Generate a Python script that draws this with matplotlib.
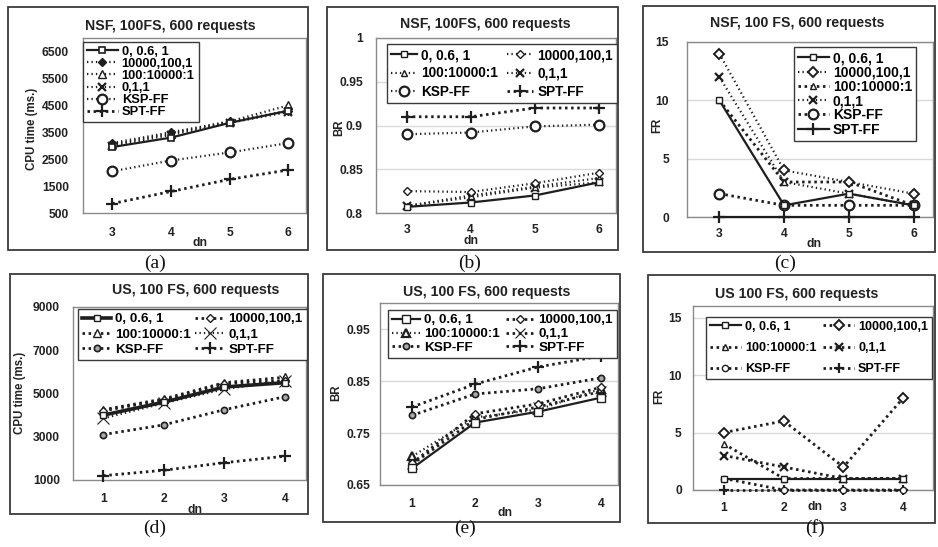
import matplotlib
matplotlib.use("Agg")
import matplotlib.pyplot as plt
from matplotlib.patches import Rectangle

W, H = 938, 547
plt.rcParams['font.family'] = ['Liberation Sans', 'DejaVu Sans']

SERIES = ["0, 0.6, 1", "10000,100,1", "100:10000:1", "0,1,1", "KSP-FF", "SPT-FF"]

# ---- (a) NSF CPU time ----
a_title = "NSF, 100FS, 600 requests"
a_dn = [3, 4, 5, 6]
a_0061 = [2950, 3300, 3850, 4300]
a_10000 = [3100, 3500, 3900, 4300]
a_100 = [3050, 3450, 3900, 4500]
a_011 = [3000, 3400, 3850, 4250]
a_ksp = [2050, 2450, 2750, 3100]
a_spt = [850, 1300, 1750, 2100]
a_yticks = [500, 1500, 2500, 3500, 4500, 5500, 6500]
a_ylabels = ["500", "1500", "2500", "3500", "4500", "5500", "6500"]

# ---- (b) NSF BR ----
b_title = "NSF, 100FS, 600 requests"
b_dn = [3, 4, 5, 6]
b_0061 = [0.807, 0.812, 0.820, 0.835]
b_10000 = [0.825, 0.824, 0.834, 0.846]
b_100 = [0.808, 0.820, 0.830, 0.840]
b_011 = [0.808, 0.818, 0.829, 0.835]
b_ksp = [0.890, 0.892, 0.899, 0.901]
b_spt = [0.910, 0.910, 0.920, 0.920]
b_yticks = [0.8, 0.85, 0.9, 0.95, 1.0]
b_ylabels = ["0.8", "0.85", "0.9", "0.95", "1"]

# ---- (c) NSF FR ----
c_title = "NSF, 100 FS, 600 requests"
c_dn = [3, 4, 5, 6]
c_0061 = [10, 1, 2, 1]
c_10000 = [14, 4, 3, 2]
c_100 = [10, 3, 3, 1]
c_011 = [12, 3, 2, 1]
c_ksp = [2, 1, 1, 1]
c_spt = [0, 0, 0, 0]
c_yticks = [0, 5, 10, 15]
c_ylabels = ["0", "5", "10", "15"]

# ---- (d) US CPU time ----
d_title = "US, 100 FS, 600 requests"
d_dn = [1, 2, 3, 4]
d_0061 = [4000, 4600, 5300, 5500]
d_10000 = [4200, 4700, 5450, 5600]
d_100 = [4250, 4750, 5500, 5750]
d_011 = [3850, 4550, 5200, 5600]
d_ksp = [3100, 3550, 4250, 4850]
d_spt = [1200, 1450, 1800, 2100]
d_yticks = [1000, 3000, 5000, 7000, 9000]
d_ylabels = ["1000", "3000", "5000", "7000", "9000"]

# ---- (e) US BR ----
e_title = "US, 100 FS, 600 requests"
e_dn = [1, 2, 3, 4]
e_0061 = [0.682, 0.770, 0.791, 0.818]
e_10000 = [0.692, 0.787, 0.806, 0.838]
e_100 = [0.705, 0.780, 0.795, 0.835]
e_011 = [0.690, 0.776, 0.800, 0.830]
e_ksp = [0.784, 0.825, 0.835, 0.856]
e_spt = [0.800, 0.844, 0.877, 0.898]
e_yticks = [0.65, 0.75, 0.85, 0.95]
e_ylabels = ["0.65", "0.75", "0.85", "0.95"]

# ---- (f) US FR ----
f_title = "US 100 FS, 600 requests"
f_dn = [1, 2, 3, 4]
f_0061 = [1, 1, 1, 1]
f_10000 = [5, 6, 2, 8]
f_100 = [4, 1, 1, 1]
f_011 = [3, 2, 1, 1]
f_ksp = [1, 0, 0, 0]
f_spt = [0, 0, 0, 0]
f_yticks = [0, 5, 10, 15]
f_ylabels = ["0", "5", "10", "15"]

CAPTIONS = ["(a)", "(b)", "(c)", "(d)", "(e)", "(f)"]

fig = plt.figure(figsize=(W / 100, H / 100), dpi=100)
fig.patch.set_facecolor("white")

INK = "#1e1e1e"
FINE = (0, (0.6, 1.4))
BOLDDOT = (0, (0.9, 1.3))


def fx(x):
    return x / W


def fy(y):
    return 1 - y / H


def frame(x0, y0, x1, y1):
    fig.add_artist(Rectangle((fx(x0), fy(y1)), fx(x1) - fx(x0), fy(y0) - fy(y1),
                             transform=fig.transFigure, fill=False,
                             edgecolor="#3a3a3a", linewidth=1.3))


def styles(panel):
    # returns list of (linestyle, lw, marker, ms, mfc, mew)
    if panel == "a":
        return [("-", 1.6, "s", 5, "white", 1.2),
                (FINE, 1.6, "D", 4, INK, 1.0),
                (FINE, 1.6, "^", 5.5, "white", 1.0),
                (FINE, 1.6, "x", 5.5, INK, 1.6),
                (FINE, 1.6, "o", 7, "white", 1.6),
                (BOLDDOT, 2.0, "+", 8, INK, 1.6)]
    if panel == "b":
        return [("-", 1.6, "s", 5, "white", 1.0),
                (FINE, 1.6, "D", 4.5, "white", 1.0),
                (FINE, 1.6, "^", 5, "white", 1.0),
                (FINE, 1.6, "x", 5.5, INK, 1.6),
                (FINE, 1.6, "o", 7, "white", 1.6),
                (BOLDDOT, 2.0, "+", 8, INK, 1.6)]
    if panel == "c":
        return [("-", 1.6, "s", 5, "white", 1.0),
                (FINE, 1.6, "D", 5, "white", 1.4),
                (BOLDDOT, 2.0, "^", 5, "white", 1.0),
                (FINE, 1.6, "x", 6, INK, 1.6),
                (BOLDDOT, 2.0, "o", 7, "white", 1.6),
                ("-", 1.6, "+", 8, INK, 1.6)]
    if panel == "d":
        return [("-", 2.6, "s", 5, "white", 1.0),
                (BOLDDOT, 2.0, "D", 4.5, "white", 1.0),
                (BOLDDOT, 2.0, "^", 6, "white", 1.0),
                (FINE, 1.6, "x", 8, INK, 0.8),
                (BOLDDOT, 2.0, "o", 4.5, "#aaaaaa", 1.2),
                (BOLDDOT, 2.0, "+", 8, INK, 1.6)]
    if panel == "e":
        return [("-", 1.6, "s", 5.5, "white", 1.0),
                (BOLDDOT, 2.0, "D", 4.5, "white", 1.0),
                (FINE, 1.6, "^", 6, "white", 1.6),
                (BOLDDOT, 2.0, "x", 7, INK, 0.8),
                (BOLDDOT, 2.0, "o", 4.5, "#aaaaaa", 1.2),
                (BOLDDOT, 2.0, "+", 8, INK, 1.6)]
    return [("-", 1.6, "s", 4.5, "white", 1.0),
            (BOLDDOT, 2.0, "D", 5, "white", 1.4),
            (BOLDDOT, 2.0, "^", 4.5, "white", 1.0),
            (BOLDDOT, 2.0, "x", 6, INK, 1.6),
            (BOLDDOT, 2.0, "o", 4.5, "white", 1.0),
            (BOLDDOT, 2.0, "+", 7.5, INK, 1.6)]


def panel(key, rect_px, xlim, ylim, dn, series, yticks, ylabels, grid,
          ypad, xpad, legend_xy, ncol, lfont, lspace, colspace, hlen):
    x0, y0, x1, y1 = rect_px
    ax = fig.add_axes([fx(x0), fy(y1), fx(x1) - fx(x0), fy(y0) - fy(y1)])
    ax.set_xlim(*xlim)
    ax.set_ylim(*ylim)
    ax.set_xticks(dn)
    ax.set_xticklabels([str(v) for v in dn])
    ax.set_yticks(yticks)
    ax.set_yticklabels(ylabels)
    ax.tick_params(axis="both", length=0, labelsize=8.7, labelcolor="#222222")
    ax.tick_params(axis="y", pad=ypad)
    ax.tick_params(axis="x", pad=xpad)
    for lab in ax.get_xticklabels() + ax.get_yticklabels():
        lab.set_fontweight("bold")
    for sp in ax.spines.values():
        sp.set_color("#8a8a8a")
        sp.set_linewidth(1.0)
    if grid:
        ax.yaxis.grid(True, color="#d9d9d9", linewidth=1.0)
        ax.set_axisbelow(True)
    handles = []
    for i, (vals, st) in enumerate(zip(series, styles(key))):
        ls, lw, mk, ms, mfc, mew = st
        h, = ax.plot(dn, vals, linestyle=ls, linewidth=lw, color=INK,
                     marker=mk, markersize=ms, markerfacecolor=mfc,
                     markeredgecolor=INK, markeredgewidth=mew,
                     label=SERIES[i], clip_on=False, zorder=3 + (6 - i) * 0.1)
        handles.append(h)
    if ncol == 2:
        order = [0, 2, 4, 1, 3, 5]
    else:
        order = [0, 1, 2, 3, 4, 5]
    leg = ax.legend([handles[i] for i in order], [SERIES[i] for i in order],
                    loc="upper left", bbox_to_anchor=(fx(legend_xy[0]), fy(legend_xy[1])),
                    bbox_transform=fig.transFigure, ncol=ncol, borderaxespad=0,
                    fancybox=False, framealpha=1, edgecolor="#3a3a3a",
                    prop={"weight": "bold", "size": lfont}, handlelength=hlen,
                    handletextpad=0.3, labelspacing=lspace, columnspacing=colspace,
                    borderpad=0.3)
    leg.get_frame().set_linewidth(1.0)
    leg.set_zorder(10)
    return ax


# frames
frame(8, 7, 308, 250)
frame(327, 7, 618, 250)
frame(643, 6, 935, 252)
frame(10, 274, 308, 514)
frame(323, 274, 620, 522)
frame(648, 275, 935, 523)

panel("a", (83, 38, 306, 213), (2.5, 6.3), (500, 7000), a_dn,
      [a_0061, a_10000, a_100, a_011, a_ksp, a_spt], a_yticks, a_ylabels, False,
      10, 10, (83, 42), 1, 9.3, 0.0, 1.0, 2.4)
panel("b", (376, 38, 616, 213), (2.52, 6.27), (0.8, 1.0), b_dn,
      [b_0061, b_10000, b_100, b_011, b_ksp, b_spt], b_yticks, b_ylabels, True,
      9.4, 8.0, (387, 44), 2, 9.8, 0.32, 0.7, 1.9)
panel("c", (687, 42, 933, 217), (2.5, 6.3), (0, 15), c_dn,
      [c_0061, c_10000, c_100, c_011, c_ksp, c_spt], c_yticks, c_ylabels, True,
      13, 8, (794, 47), 1, 10.0, 0.02, 1.0, 2.2)
panel("d", (73, 307, 306, 480), (0.5, 4.35), (1000, 9000), d_dn,
      [d_0061, d_10000, d_100, d_011, d_ksp, d_spt], d_yticks, d_ylabels, False,
      9.4, 9.4, (78, 309), 2, 9.6, 0.22, 0.3, 2.2)
panel("e", (380, 303, 618, 485), (0.49, 4.27), (0.65, 1.0), e_dn,
      [e_0061, e_10000, e_100, e_011, e_ksp, e_spt], e_yticks, e_ylabels, True,
      7.2, 9.4, (388, 310), 2, 9.7, 0.1, 0.45, 2.1)
panel("f", (693, 306, 933, 490), (0.48, 4.5), (0, 16), f_dn,
      [f_0061, f_10000, f_100, f_011, f_ksp, f_spt], f_yticks, f_ylabels, True,
      8, 8.6, (706, 317), 2, 9.0, 0.75, 0.55, 2.5)

# titles
for t, (x, y) in zip([a_title, b_title, c_title, d_title, e_title, f_title],
                     [(170, 26), (485, 24), (797, 23), (196, 290), (487, 292), (797, 294)]):
    fig.text(fx(x), fy(y), t, ha="center", va="center", fontsize=10.2,
             fontweight="bold", color="#222222")

# axis labels
for t, (x, y) in zip(["CPU time (ms.)", "BR", "FR", "CPU time (ms.)", "BR", "FR"],
                     [(32, 129), (339, 128), (657, 125), (20, 393), (336, 393), (659, 396)]):
    fig.text(fx(x), fy(y), t, ha="center", va="center", rotation=90, fontsize=8.3,
             fontweight="bold", color="#222222")
for (x, y) in [(200, 243), (471, 241), (814, 244), (195, 510), (505, 513), (815, 507)]:
    fig.text(fx(x), fy(y), "dn", ha="center", va="center", fontsize=8.7,
             fontweight="bold", color="#222222")

# captions
for t, (x, y) in zip(CAPTIONS, [(155, 263), (470, 263), (785, 263),
                                (155, 528), (465, 528), (815, 528)]):
    fig.text(fx(x), fy(y), t, ha="center", va="center", fontsize=14,
             family="Liberation Serif", color="#111111")

fig.savefig("out.png", dpi=100, facecolor="white")
